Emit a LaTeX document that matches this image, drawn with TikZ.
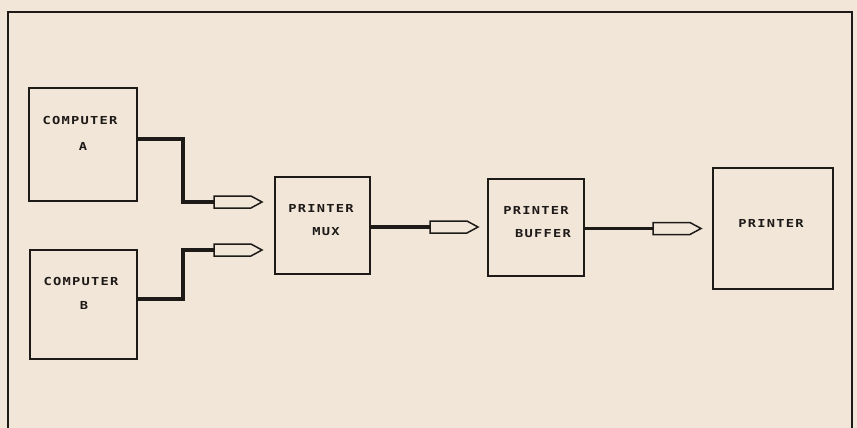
\documentclass[tikz,border=0pt]{standalone}
\usepackage{fontspec}
\newfontfamily\plotfont{DejaVu Sans Mono}[LetterSpace=11,FakeStretch=1.25]
\usetikzlibrary{shapes.symbols}
\definecolor{bg}{HTML}{F2E6D9}
\definecolor{ink}{HTML}{1E1A18}
\begin{document}
\begin{tikzpicture}[x=1pt,y=-1pt,
  box/.style={draw=ink, line width=1.8pt, inner sep=0pt, outer sep=0pt},
  plug/.style={draw=ink, line width=1.5pt, fill=bg, shape=signal, signal to=east,
    inner sep=0pt, outer sep=0pt, minimum width=48pt, minimum height=12pt, signal pointer angle=57},
  cable/.style={draw=ink, line width=3.3pt},
  lbl/.style={font=\plotfont\bfseries\fontsize{11}{13}\selectfont, inner sep=0pt, text=ink},
  frame/.style={draw=ink, line width=1.4pt}]
\useasboundingbox (0,0) rectangle (857,428);
\fill[bg] (0,0) rectangle (857,428);
\draw[frame] (8,428) -- (8,12) -- (852,12) -- (852,428);
% boxes
\node[box, minimum width=108pt, minimum height=113pt] (ca) at (83,144.5) {};
\node[box, minimum width=107pt, minimum height=109pt] (cb) at (83.5,304.5) {};
\node[box, minimum width=95pt, minimum height=97pt] (mux) at (322.5,225.5) {};
\node[box, minimum width=96pt, minimum height=97pt] (buf) at (536,227.5) {};
\node[box, minimum width=120pt, minimum height=121pt] (prn) at (773,228.5) {};
% labels
\node[lbl] (caT) at (80,120) {COMPUTER};
\node[lbl] (caL) at (83,146) {A};
\node[lbl] (cbT) at (81,281) {COMPUTER};
\node[lbl] (cbL) at (84,305) {B};
\node[lbl] (muxT) at (321,208) {PRINTER};
\node[lbl] (muxL) at (326,232) {MUX};
\node[lbl] (bufT) at (536,210) {PRINTER};
\node[lbl] (bufL) at (543,234) {BUFFER};
\node[lbl] (prnT) at (771,223) {PRINTER};
% plugs
\node[plug, anchor=west] (pa) at (214,202) {};
\node[plug, anchor=west] (pb) at (214,250) {};
\node[plug, anchor=west] (pm) at (430,227) {};
\node[plug, anchor=west] (pf) at (653,228.5) {};
% cables
\draw[cable] ([yshift=5.5pt]ca.east) -- ++(46,0) |- (pa.west);
\draw[cable] ([yshift=5.5pt]cb.east) -- ++(46,0) |- (pb.west);
\draw[cable] (mux.east |- pm.west) -- (pm.west);
\draw[cable] (buf.east |- pf.west) -- (pf.west);
\end{tikzpicture}
\end{document}
